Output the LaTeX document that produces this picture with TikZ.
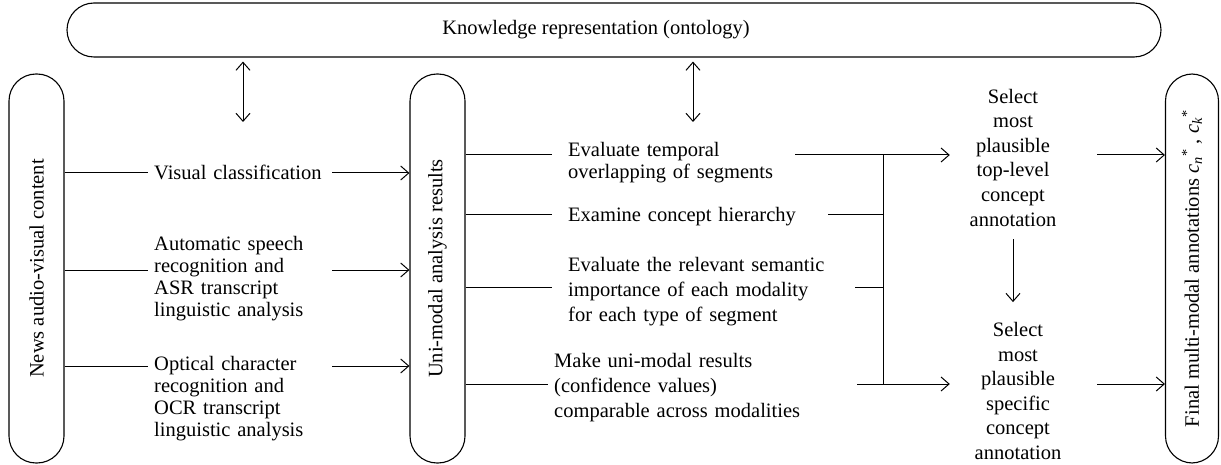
\documentclass[tikz,border=0pt]{standalone}
\usepackage{fontspec}
\setmainfont{Liberation Serif}
\usetikzlibrary{positioning, arrows.meta}

\begin{document}
\begin{tikzpicture}[x=1pt, y=-1pt, >={Straight Barb[length=8pt,width=14pt]},
        font=\fontsize{20.5}{22}\selectfont,
        lane/.style={rectangle, draw=black, line width=1.1pt, rounded corners=27pt, rotate=90, minimum width=389pt, minimum height=55pt, inner sep=0pt},
        task/.style={anchor=west, align=left, inner xsep=6pt, inner ysep=0pt},
        mid/.style={task, inner xsep=16pt},
        choice/.style={align=center, text width=100pt, inner xsep=13pt, inner ysep=0pt, font=\fontsize{20.5}{24.6}\selectfont},
        link/.style={line width=1pt},
        arrow/.style={->, line width=1pt}]

        \useasboundingbox (0,0) rectangle (1221,465);

        % boxes
        \node[rectangle, draw=black, line width=1.1pt, rounded corners=27pt, minimum width=1094pt, minimum height=54pt, inner sep=0pt] (kr) at (614,30) {\hspace*{-36pt}Knowledge representation (ontology)};
        \node[lane] (news) at (36.5,268.5) {News audio-visual content};
        \node[lane] (uni) at (437.5,268.5) {Uni-modal analysis results};
        \node[lane, minimum height=53pt] (final) at (1192,268.5) {Final multi-modal annotations \textit{c}\textsubscript{\textit{n}}\textsuperscript{*} , \textit{c}\textsubscript{\textit{k}}\textsuperscript{*}};

        % rows
        \coordinate (v1) at (0,173);
        \coordinate (v2) at (0,270);
        \coordinate (v3) at (0,366);
        \coordinate (r1) at (0,155);
        \coordinate (r2) at (0,215);
        \coordinate (r3) at (0,287);
        \coordinate (r4) at (0,384);
        \coordinate (bar) at (883,0);
        \coordinate (out) at (1097,0);
        \coordinate (k1) at (243,122);
        \coordinate (k2) at (693,122);

        % uni-modal analysis
        \node[task, text width=172pt] (vis) at (148,172) {Visual classification};
        \node[task, text width=172pt] (asr) at (148,279) {Automatic speech\\recognition and\\ASR transcript\\linguistic analysis};
        \node[task, text width=172pt] (ocr) at (148,399) {Optical character\\recognition and\\OCR transcript\\linguistic analysis};

        % fusion steps
        \node[mid, text width=211pt] (t1) at (552,163) {Evaluate temporal\\overlapping of segments};
        \node[mid, text width=244pt] (t2) at (552,217) {Examine concept hierarchy};
        \node[mid, text width=271pt, font=\fontsize{20.5}{25}\selectfont] (t3) at (552,292) {Evaluate the relevant semantic\\importance of each modality\\for each type of segment};
        \node[mid, inner xsep=6pt, text width=297pt, font=\fontsize{20.5}{25}\selectfont] (t4) at (548,388) {Make uni-modal results\\(confidence values)\\comparable across modalities};

        \node[choice] (sel1) at (1013,157.5) {Select\\most\\plausible\\top-level\\concept\\annotation};
        \node[choice, inner xsep=18pt] (sel2) at (1018,391) {Select\\most\\plausible\\specific\\concept\\annotation};

        % ontology links
        \draw[<->, line width=1pt, shorten <=4pt] (kr.south -| k1) -- (k1);
        \draw[<->, line width=1pt, shorten <=4pt] (kr.south -| k2) -- (k2);

        \draw[link] (news.south |- v1) -- (vis.west |- v1);
        \draw[link] (news.south |- v2) -- (asr.west |- v2);
        \draw[link] (news.south |- v3) -- (ocr.west |- v3);
        \draw[arrow] (vis.east |- v1) -- (uni.north |- v1);
        \draw[arrow] (asr.east |- v2) -- (uni.north |- v2);
        \draw[arrow] (ocr.east |- v3) -- (uni.north |- v3);

        \draw[link] (uni.south |- r1) -- (t1.west |- r1);
        \draw[link] (uni.south |- r2) -- (t2.west |- r2);
        \draw[link] (uni.south |- r3) -- (t3.west |- r3);
        \draw[link] (uni.south |- r4) -- (t4.west |- r4);

        \draw[arrow] (t1.east |- r1) -- (sel1.west |- r1);
        \draw[link] (t2.east |- r2) -- (bar |- r2);
        \draw[link] (t3.east |- r3) -- (bar |- r3);
        \draw[arrow] (t4.east |- r4) -- (sel2.west |- r4);
        \draw[link] (bar |- r1) -- (bar |- r4);

        \draw[arrow, shorten <=13pt, shorten >=20pt] (sel1.south) -- (sel1.south |- sel2.north);
        \draw[arrow] (out |- r1) -- (final.north |- r1);
        \draw[arrow] (out |- r4) -- (final.north |- r4);
    \end{tikzpicture}
\end{document}
